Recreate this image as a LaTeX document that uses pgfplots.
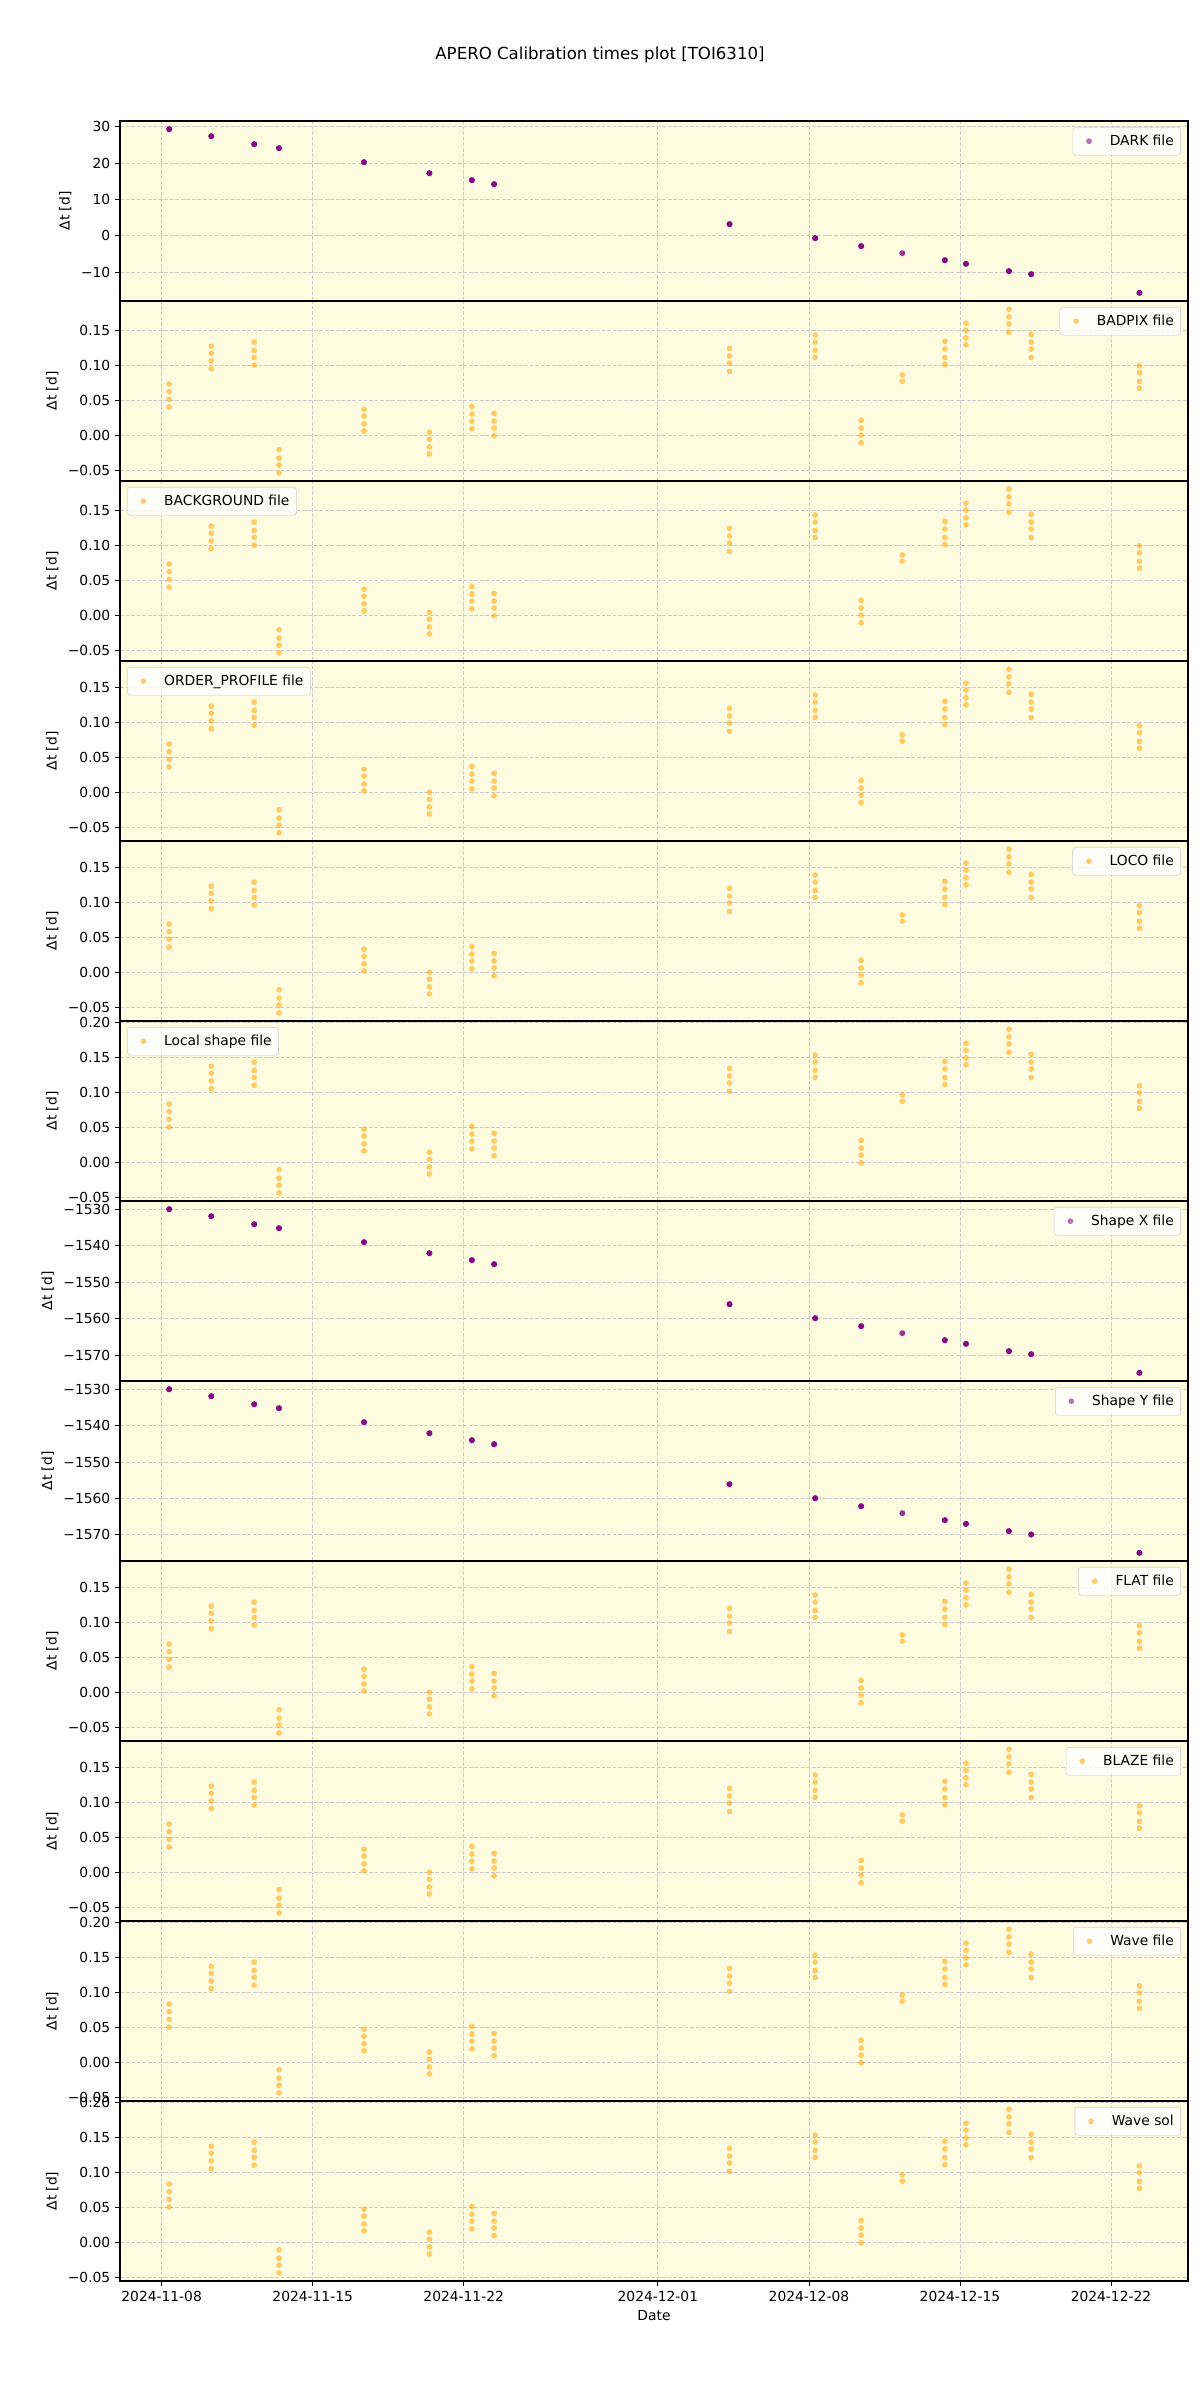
\documentclass[border=0pt]{standalone}
\usepackage{fontspec}
\setmainfont{DejaVu Sans}
\usepackage{pgfplots}
\usepackage{pgfplotstable}
\pgfplotsset{compat=1.18}

\definecolor{bgyellow}{HTML}{FDFBE0}
\definecolor{dotorange}{HTML}{FFA500}
\definecolor{dotpurple}{HTML}{800080}

% x = days since 2024-11-08 00:00, y = delta t [d]
% DARK: one point per science file (4 per night, 2 on 12-12)
\pgfplotstableread[row sep=\\]{
x y\\
0.35 29.36\\ 0.35 29.36\\ 0.35 29.36\\ 0.35 29.36\\
2.30 27.43\\ 2.30 27.43\\ 2.30 27.43\\ 2.30 27.43\\
4.29 25.23\\ 4.29 25.23\\ 4.29 25.23\\ 4.29 25.23\\
5.44 24.13\\ 5.44 24.13\\ 5.44 24.13\\ 5.44 24.13\\
9.38 20.28\\ 9.38 20.28\\ 9.38 20.28\\ 9.38 20.28\\
12.41 17.25\\ 12.41 17.25\\ 12.41 17.25\\ 12.41 17.25\\
14.38 15.32\\ 14.38 15.32\\ 14.38 15.32\\ 14.38 15.32\\
15.41 14.22\\ 15.41 14.22\\ 15.41 14.22\\ 15.41 14.22\\
26.32 3.21\\ 26.32 3.21\\ 26.32 3.21\\ 26.32 3.21\\
30.29 -0.64\\ 30.29 -0.64\\ 30.29 -0.64\\ 30.29 -0.64\\
32.42 -2.84\\ 32.42 -2.84\\ 32.42 -2.84\\ 32.42 -2.84\\
34.33 -4.77\\ 34.33 -4.77\\
36.30 -6.70\\ 36.30 -6.70\\ 36.30 -6.70\\ 36.30 -6.70\\
37.28 -7.70\\ 37.28 -7.70\\ 37.28 -7.70\\ 37.28 -7.70\\
39.27 -9.72\\ 39.27 -9.72\\ 39.27 -9.72\\ 39.27 -9.72\\
40.30 -10.55\\ 40.30 -10.55\\ 40.30 -10.55\\ 40.30 -10.55\\
45.32 -15.69\\ 45.32 -15.69\\ 45.32 -15.69\\ 45.32 -15.69\\
}\tabdark

\pgfplotstableread[row sep=\\]{
x y\\
0.35 -1530.00\\ 0.35 -1530.00\\ 0.35 -1530.00\\ 0.35 -1530.00\\
2.30 -1531.92\\ 2.30 -1531.92\\ 2.30 -1531.92\\ 2.30 -1531.92\\
4.29 -1534.11\\ 4.29 -1534.11\\ 4.29 -1534.11\\ 4.29 -1534.11\\
5.44 -1535.21\\ 5.44 -1535.21\\ 5.44 -1535.21\\ 5.44 -1535.21\\
9.38 -1539.04\\ 9.38 -1539.04\\ 9.38 -1539.04\\ 9.38 -1539.04\\
12.41 -1542.05\\ 12.41 -1542.05\\ 12.41 -1542.05\\ 12.41 -1542.05\\
14.38 -1543.97\\ 14.38 -1543.97\\ 14.38 -1543.97\\ 14.38 -1543.97\\
15.41 -1545.07\\ 15.41 -1545.07\\ 15.41 -1545.07\\ 15.41 -1545.07\\
26.32 -1556.03\\ 26.32 -1556.03\\ 26.32 -1556.03\\ 26.32 -1556.03\\
30.29 -1559.86\\ 30.29 -1559.86\\ 30.29 -1559.86\\ 30.29 -1559.86\\
32.42 -1562.05\\ 32.42 -1562.05\\ 32.42 -1562.05\\ 32.42 -1562.05\\
34.33 -1563.97\\ 34.33 -1563.97\\
36.30 -1565.89\\ 36.30 -1565.89\\ 36.30 -1565.89\\ 36.30 -1565.89\\
37.28 -1566.89\\ 37.28 -1566.89\\ 37.28 -1566.89\\ 37.28 -1566.89\\
39.27 -1568.90\\ 39.27 -1568.90\\ 39.27 -1568.90\\ 39.27 -1568.90\\
40.30 -1569.73\\ 40.30 -1569.73\\ 40.30 -1569.73\\ 40.30 -1569.73\\
45.32 -1574.84\\ 45.32 -1574.84\\ 45.32 -1574.84\\ 45.32 -1574.84\\
}\tabshapex

\pgfplotstableread[row sep=\\]{
x y\\
0.35 -1530.00\\ 0.35 -1530.00\\ 0.35 -1530.00\\ 0.35 -1530.00\\
2.30 -1531.92\\ 2.30 -1531.92\\ 2.30 -1531.92\\ 2.30 -1531.92\\
4.29 -1534.12\\ 4.29 -1534.12\\ 4.29 -1534.12\\ 4.29 -1534.12\\
5.44 -1535.22\\ 5.44 -1535.22\\ 5.44 -1535.22\\ 5.44 -1535.22\\
9.38 -1539.06\\ 9.38 -1539.06\\ 9.38 -1539.06\\ 9.38 -1539.06\\
12.41 -1542.08\\ 12.41 -1542.08\\ 12.41 -1542.08\\ 12.41 -1542.08\\
14.38 -1544.00\\ 14.38 -1544.00\\ 14.38 -1544.00\\ 14.38 -1544.00\\
15.41 -1545.10\\ 15.41 -1545.10\\ 15.41 -1545.10\\ 15.41 -1545.10\\
26.32 -1556.09\\ 26.32 -1556.09\\ 26.32 -1556.09\\ 26.32 -1556.09\\
30.29 -1559.93\\ 30.29 -1559.93\\ 30.29 -1559.93\\ 30.29 -1559.93\\
32.42 -1562.13\\ 32.42 -1562.13\\ 32.42 -1562.13\\ 32.42 -1562.13\\
34.33 -1564.05\\ 34.33 -1564.05\\
36.30 -1565.97\\ 36.30 -1565.97\\ 36.30 -1565.97\\ 36.30 -1565.97\\
37.28 -1566.98\\ 37.28 -1566.98\\ 37.28 -1566.98\\ 37.28 -1566.98\\
39.27 -1568.99\\ 39.27 -1568.99\\ 39.27 -1568.99\\ 39.27 -1568.99\\
40.30 -1569.91\\ 40.30 -1569.91\\ 40.30 -1569.91\\ 40.30 -1569.91\\
45.32 -1574.94\\ 45.32 -1574.94\\ 45.32 -1574.94\\ 45.32 -1574.94\\
}\tabshapey

% BADPIX / BACKGROUND
\pgfplotstableread[row sep=\\]{
x y\\
0.35 0.073\\ 0.35 0.062\\ 0.35 0.051\\ 0.35 0.040\\
2.30 0.127\\ 2.30 0.117\\ 2.30 0.106\\ 2.30 0.095\\
4.29 0.133\\ 4.29 0.121\\ 4.29 0.111\\ 4.29 0.100\\
5.44 -0.021\\ 5.44 -0.033\\ 5.44 -0.043\\ 5.44 -0.054\\
9.38 0.037\\ 9.38 0.027\\ 9.38 0.016\\ 9.38 0.006\\
12.41 0.004\\ 12.41 -0.006\\ 12.41 -0.017\\ 12.41 -0.027\\
14.38 0.041\\ 14.38 0.030\\ 14.38 0.020\\ 14.38 0.009\\
15.41 0.031\\ 15.41 0.020\\ 15.41 0.010\\ 15.41 -0.001\\
26.32 0.124\\ 26.32 0.113\\ 26.32 0.103\\ 26.32 0.091\\
30.29 0.143\\ 30.29 0.133\\ 30.29 0.121\\ 30.29 0.111\\
32.42 0.021\\ 32.42 0.010\\ 32.42 0.000\\ 32.42 -0.011\\
34.33 0.086\\ 34.33 0.077\\
36.30 0.134\\ 36.30 0.123\\ 36.30 0.111\\ 36.30 0.101\\
37.28 0.160\\ 37.28 0.150\\ 37.28 0.139\\ 37.28 0.129\\
39.27 0.180\\ 39.27 0.169\\ 39.27 0.159\\ 39.27 0.147\\
40.30 0.144\\ 40.30 0.133\\ 40.30 0.123\\ 40.30 0.111\\
45.32 0.099\\ 45.32 0.089\\ 45.32 0.077\\ 45.32 0.067\\
}\tabA

% ORDER_PROFILE / LOCO / FLAT / BLAZE
\pgfplotstableread[row sep=\\]{
x y\\
0.35 0.0696\\ 0.35 0.0586\\ 0.35 0.0476\\ 0.35 0.0366\\
2.30 0.1236\\ 2.30 0.1136\\ 2.30 0.1026\\ 2.30 0.0916\\
4.29 0.1296\\ 4.29 0.1176\\ 4.29 0.1076\\ 4.29 0.0966\\
5.44 -0.0244\\ 5.44 -0.0364\\ 5.44 -0.0464\\ 5.44 -0.0574\\
9.38 0.0336\\ 9.38 0.0236\\ 9.38 0.0126\\ 9.38 0.0026\\
12.41 0.0006\\ 12.41 -0.0094\\ 12.41 -0.0204\\ 12.41 -0.0304\\
14.38 0.0376\\ 14.38 0.0266\\ 14.38 0.0166\\ 14.38 0.0056\\
15.41 0.0276\\ 15.41 0.0166\\ 15.41 0.0066\\ 15.41 -0.0044\\
26.32 0.1206\\ 26.32 0.1096\\ 26.32 0.0996\\ 26.32 0.0876\\
30.29 0.1396\\ 30.29 0.1296\\ 30.29 0.1176\\ 30.29 0.1076\\
32.42 0.0176\\ 32.42 0.0066\\ 32.42 -0.0034\\ 32.42 -0.0144\\
34.33 0.0826\\ 34.33 0.0736\\
36.30 0.1306\\ 36.30 0.1196\\ 36.30 0.1076\\ 36.30 0.0976\\
37.28 0.1566\\ 37.28 0.1466\\ 37.28 0.1356\\ 37.28 0.1256\\
39.27 0.1766\\ 39.27 0.1656\\ 39.27 0.1556\\ 39.27 0.1436\\
40.30 0.1406\\ 40.30 0.1296\\ 40.30 0.1196\\ 40.30 0.1076\\
45.32 0.0956\\ 45.32 0.0856\\ 45.32 0.0736\\ 45.32 0.0636\\
}\tabB

% Local shape / Wave file / Wave sol
\pgfplotstableread[row sep=\\]{
x y\\
0.35 0.084\\ 0.35 0.073\\ 0.35 0.062\\ 0.35 0.051\\
2.30 0.138\\ 2.30 0.128\\ 2.30 0.117\\ 2.30 0.106\\
4.29 0.144\\ 4.29 0.132\\ 4.29 0.122\\ 4.29 0.111\\
5.44 -0.010\\ 5.44 -0.022\\ 5.44 -0.032\\ 5.44 -0.043\\
9.38 0.048\\ 9.38 0.038\\ 9.38 0.027\\ 9.38 0.017\\
12.41 0.015\\ 12.41 0.005\\ 12.41 -0.006\\ 12.41 -0.016\\
14.38 0.052\\ 14.38 0.041\\ 14.38 0.031\\ 14.38 0.020\\
15.41 0.042\\ 15.41 0.031\\ 15.41 0.021\\ 15.41 0.010\\
26.32 0.135\\ 26.32 0.124\\ 26.32 0.114\\ 26.32 0.102\\
30.29 0.154\\ 30.29 0.144\\ 30.29 0.132\\ 30.29 0.122\\
32.42 0.032\\ 32.42 0.021\\ 32.42 0.011\\ 32.42 0.000\\
34.33 0.097\\ 34.33 0.088\\
36.30 0.145\\ 36.30 0.134\\ 36.30 0.122\\ 36.30 0.112\\
37.28 0.171\\ 37.28 0.161\\ 37.28 0.150\\ 37.28 0.140\\
39.27 0.191\\ 39.27 0.180\\ 39.27 0.170\\ 39.27 0.158\\
40.30 0.155\\ 40.30 0.144\\ 40.30 0.134\\ 40.30 0.122\\
45.32 0.110\\ 45.32 0.100\\ 45.32 0.088\\ 45.32 0.078\\
}\tabC

\pgfplotsset{
  panel/.style={
    scale only axis, width=10.68in, height=1.8in, anchor=north west,
    xmin=-1.93, xmax=47.57,
    xtick={0,7,14,23,30,37,44}, xticklabels={},
    axis background/.style={fill=bgyellow},
    xmajorgrids, ymajorgrids,
    major grid style={dash pattern=on 2.8pt off 1.2pt, black!20, line width=0.6pt},
    tick align=outside, xtick pos=bottom, ytick pos=left,
    major tick length=3.5pt,
    every tick/.style={black, line width=0.6pt},
    axis line style={line width=0.8pt},
    ylabel={Δt [d]},
    label style={font=\fontsize{10}{12}\selectfont},
    tick label style={font=\fontsize{10}{12}\selectfont},
    legend cell align=left,
    legend image code/.code={
      \path[draw=none, fill=none] (0,-0.05in) rectangle (0.3in,0.05in);
      \draw[##1] plot coordinates {(0.12in,0in)};
    },
    legend style={draw=black!18, rounded corners=2pt, fill=white, fill opacity=0.8,
      text opacity=1, font=\fontsize{10}{12}\selectfont,
      inner xsep=3pt, inner ysep=3.5pt},
  },
  upright/.style={legend style={at={(1,1)}, anchor=north east, xshift=-0.07in, yshift=-0.06in}},
  upleft/.style={legend style={at={(0,1)}, anchor=north west, xshift=0.07in, yshift=-0.06in}},
  dots/.style={only marks, mark=*, mark size=2.1pt,
    mark options={draw opacity=0, fill=#1, fill opacity=0.55}},
  ticksA/.style={ymin=-0.0657, ymax=0.1917, ytick={-0.05,0,0.05,0.1,0.15},
    yticklabels={−0.05,0.00,0.05,0.10,0.15}},
  ticksB/.style={ymin=-0.0691, ymax=0.1883, ytick={-0.05,0,0.05,0.1,0.15},
    yticklabels={−0.05,0.00,0.05,0.10,0.15}},
  ticksC/.style={ymin=-0.0547, ymax=0.2027, ytick={-0.05,0,0.05,0.1,0.15,0.2},
    yticklabels={−0.05,0.00,0.05,0.10,0.15,0.20}},
  ticksS/.style={ytick={-1570,-1560,-1550,-1540,-1530},
    yticklabels={−1570,−1560,−1550,−1540,−1530}},
}

\begin{document}
\begin{tikzpicture}
\path[use as bounding box] (0,0) rectangle (12in,-24in);
\node[font=\fontsize{12}{14}\selectfont] at (6in,-0.55in) {APERO Calibration times plot [TOI6310]};

\begin{axis}[panel, at={(1.2in,-1.21in)}, upright,
  ymin=-17.94, ymax=31.61, ytick={-10,0,10,20,30}, yticklabels={−10,0,10,20,30}]
\addplot[dots=dotpurple] table {\tabdark};
\legend{DARK file}
\end{axis}

\begin{axis}[panel, at={(1.2in,-3.01in)}, upright, ticksA]
\addplot[dots=dotorange] table {\tabA};
\legend{BADPIX file}
\end{axis}

\begin{axis}[panel, at={(1.2in,-4.81in)}, upleft, ticksA]
\addplot[dots=dotorange] table {\tabA};
\legend{BACKGROUND file}
\end{axis}

\begin{axis}[panel, at={(1.2in,-6.61in)}, upleft, ticksB]
\addplot[dots=dotorange] table {\tabB};
\legend{ORDER\_PROFILE file}
\end{axis}

\begin{axis}[panel, at={(1.2in,-8.41in)}, upright, ticksB]
\addplot[dots=dotorange] table {\tabB};
\legend{LOCO file}
\end{axis}

\begin{axis}[panel, at={(1.2in,-10.21in)}, upleft, ticksC]
\addplot[dots=dotorange] table {\tabC};
\legend{Local shape file}
\end{axis}

\begin{axis}[panel, at={(1.2in,-12.01in)}, upright, ticksS, ymin=-1577.08, ymax=-1527.76]
\addplot[dots=dotpurple] table {\tabshapex};
\legend{Shape X file}
\end{axis}

\begin{axis}[panel, at={(1.2in,-13.81in)}, upright, ticksS, ymin=-1577.19, ymax=-1527.75]
\addplot[dots=dotpurple] table {\tabshapey};
\legend{Shape Y file}
\end{axis}

\begin{axis}[panel, at={(1.2in,-15.61in)}, upright, ticksB]
\addplot[dots=dotorange] table {\tabB};
\legend{FLAT file}
\end{axis}

\begin{axis}[panel, at={(1.2in,-17.41in)}, upright, ticksB]
\addplot[dots=dotorange] table {\tabB};
\legend{BLAZE file}
\end{axis}

\begin{axis}[panel, at={(1.2in,-19.21in)}, upright, ticksC]
\addplot[dots=dotorange] table {\tabC};
\legend{Wave file}
\end{axis}

\begin{axis}[panel, at={(1.2in,-21.01in)}, upright, ticksC,
  xticklabels={2024-11-08,2024-11-15,2024-11-22,2024-12-01,2024-12-08,2024-12-15,2024-12-22},
  xlabel={Date}]
\addplot[dots=dotorange] table {\tabC};
\legend{Wave sol}
\end{axis}
\end{tikzpicture}
\end{document}
